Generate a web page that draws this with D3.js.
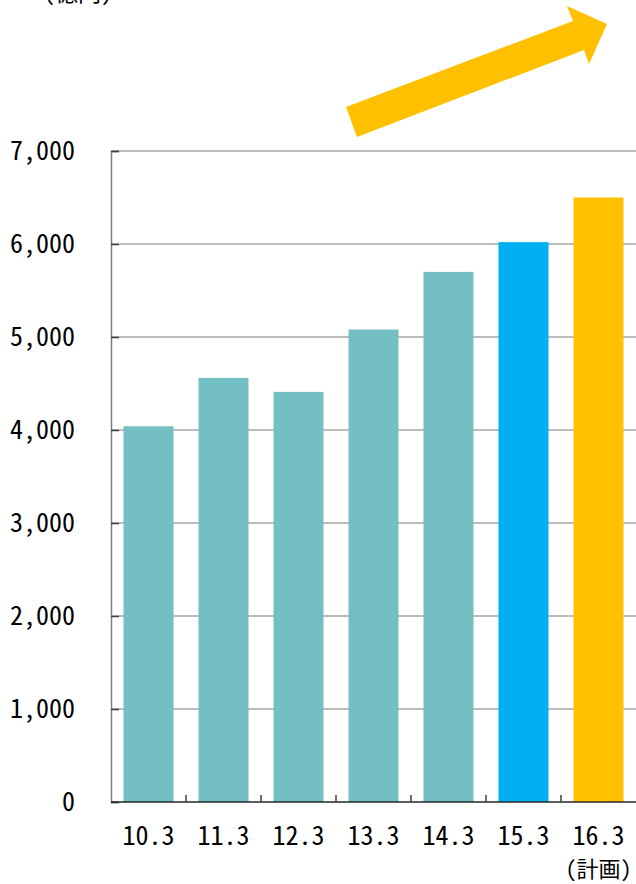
<!DOCTYPE html>
<html>
<head>
<meta charset="utf-8">
<script src="https://cdn.jsdelivr.net/npm/d3@7"></script>
<style>
  html, body { margin: 0; padding: 0; background: #fff; }
  svg { display: block; }
  text { font-family: "Noto Sans Mono CJK JP", "Noto Sans CJK JP", monospace; fill: #000; }
</style>
</head>
<body>
<svg id="chart" width="636" height="884"></svg>
<script>
// Fiscal year-end labels and values (億円)
const categories = ["10.3", "11.3", "12.3", "13.3", "14.3", "15.3", "16.3"];
const values = [4040, 4560, 4410, 5080, 5700, 6020, 6500];
const subLabels = ["", "", "", "", "", "", "(計画)"];
const yTicks = [0, 1000, 2000, 3000, 4000, 5000, 6000, 7000];
const unitLabel = "(億円)";

const barColors = ["#73BFC4", "#73BFC4", "#73BFC4", "#73BFC4", "#73BFC4", "#00B0F0", "#FFC000"];

const svg = d3.select("#chart");
const margin = { top: 151, right: 0, bottom: 82, left: 111 };
const width = 636, height = 884;

const x = d3.scaleBand()
  .domain(categories)
  .range([margin.left, width - margin.right])
  .paddingInner(1 / 3)
  .paddingOuter(1 / 6);

const y = d3.scaleLinear()
  .domain([0, 7000])
  .range([height - margin.bottom, margin.top]);

// horizontal gridlines
svg.append("g")
  .selectAll("line")
  .data(yTicks.filter(d => d > 0))
  .join("line")
  .attr("x1", margin.left)
  .attr("x2", width)
  .attr("y1", d => y(d))
  .attr("y2", d => y(d))
  .attr("stroke", "#a6a6a6")
  .attr("stroke-width", 1.5);

// bars
svg.append("g")
  .selectAll("rect")
  .data(categories)
  .join("rect")
  .attr("x", d => x(d))
  .attr("width", x.bandwidth())
  .attr("y", (d, i) => y(values[i]))
  .attr("height", (d, i) => y(0) - y(values[i]))
  .attr("fill", (d, i) => barColors[i]);

// y axis: inward ticks, labels set further left
const yAxis = svg.append("g")
  .attr("transform", `translate(${margin.left},0)`)
  .call(d3.axisRight(y).tickValues(yTicks).tickSize(8).tickFormat(""));
yAxis.select(".domain").attr("stroke", "#7f7f7f").attr("stroke-width", 1.5);
yAxis.selectAll(".tick line").attr("stroke", "#404040").attr("stroke-width", 1.5);

svg.append("g")
  .selectAll("text")
  .data(yTicks)
  .join("text")
  .attr("x", 75)
  .attr("y", d => y(d))
  .attr("dy", "0.36em")
  .attr("text-anchor", "end")
  .attr("font-size", 26)
  .text(d => d3.format(",")(d));

// x axis: baseline with ticks between categories
const xAxis = svg.append("g")
  .attr("transform", `translate(0,${y(0)})`);
xAxis.append("line")
  .attr("x1", margin.left)
  .attr("x2", width)
  .attr("stroke", "#262626")
  .attr("stroke-width", 1.5);
xAxis.selectAll("line.sep")
  .data(categories.slice(1))
  .join("line")
  .attr("class", "sep")
  .attr("x1", d => x(d) - x.step() * x.paddingInner() / 2)
  .attr("x2", d => x(d) - x.step() * x.paddingInner() / 2)
  .attr("y1", 0)
  .attr("y2", -7)
  .attr("stroke", "#404040")
  .attr("stroke-width", 1.5);

svg.append("g")
  .selectAll("text")
  .data(categories)
  .join("text")
  .attr("x", d => x(d) + x.bandwidth() / 2)
  .attr("y", 845)
  .attr("text-anchor", "middle")
  .attr("font-size", 26)
  .text(d => d);

svg.append("g")
  .selectAll("text")
  .data(categories)
  .join("text")
  .attr("x", d => x(d) + x.bandwidth() / 2)
  .attr("y", 877)
  .attr("text-anchor", "middle")
  .attr("font-size", 22)
  .text((d, i) => subLabels[i]);

// unit label at the top-left
svg.append("text")
  .attr("x", 78)
  .attr("y", 1)
  .attr("text-anchor", "middle")
  .attr("font-size", 23)
  .text(unitLabel);

// growth arrow
const arrow = [
  [346, 107], [573, 21], [567, 6], [607, 24], [589, 64], [584, 50], [357, 137]
];
svg.append("path")
  .attr("d", d3.line()(arrow) + "Z")
  .attr("fill", "#FFC000");
</script>
</body>
</html>
